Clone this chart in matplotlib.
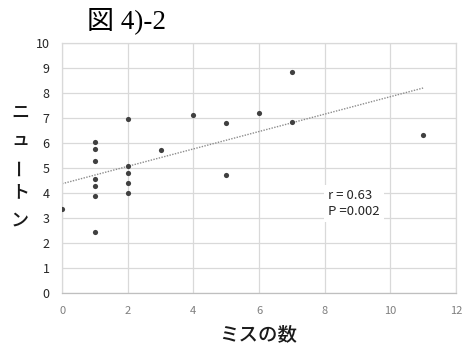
import numpy as np
import matplotlib
matplotlib.use("Agg")
import matplotlib.pyplot as plt

# data
miss_count = [0, 1, 1, 1, 1, 1, 1, 1, 2, 2, 2, 2, 2, 3, 4, 5, 5, 6, 7, 7, 11]
newton = [3.37, 6.05, 5.78, 5.30, 4.56, 4.27, 3.88, 2.45,
          6.96, 5.07, 4.82, 4.39, 3.99, 5.73, 7.13, 6.80, 4.74,
          7.19, 8.82, 6.83, 6.32]
x_ticks = [0, 2, 4, 6, 8, 10, 12]
y_ticks = list(range(0, 11))
ylabel_chars = ["ニ", "ュ", "ー", "ト", "ン"]

CJK = ["Noto Sans CJK JP", "DejaVu Sans"]
plt.rcParams["font.family"] = CJK

fig = plt.figure(figsize=(4.65, 3.48), dpi=100)
ax = fig.add_axes([0.1335, 0.157, 0.847, 0.720])

x = np.array(miss_count, dtype=float)
y = np.array(newton)
slope, intercept = np.polyfit(x, y, 1)
xl = np.array([x.min(), x.max()])
ax.plot(xl, slope * xl + intercept, color="#8c8c8c", lw=1.0, ls=(0, (1, 1)), zorder=2)
ax.scatter(x, y, s=14, color="#404040", zorder=3, linewidths=0)

ax.set_xlim(0, 12)
ax.set_ylim(0, 10)
ax.set_xticks(x_ticks)
ax.set_yticks(y_ticks)
ax.grid(True, color="#d9d9d9", lw=0.9)
ax.set_axisbelow(True)
for sp in ax.spines.values():
    sp.set_color("#d9d9d9")
    sp.set_linewidth(0.9)
ax.spines["bottom"].set_color("#bfbfbf")
ax.tick_params(length=0)
ax.tick_params(axis="x", colors="#7f7f7f", labelsize=8, pad=9)
ax.tick_params(axis="y", colors="#404040", labelsize=9, pad=9)
for lbl in ax.get_yticklabels():
    lbl.set_color("#262626")

ax.text(8.1, 3.59, "r = 0.63\nP =0.002", fontsize=9.5, color="#262626",
        linespacing=1.25, ha="left", va="center",
        bbox=dict(facecolor="white", edgecolor="none", pad=3))

fig.text(0.271, 0.94, "図 4)-2", fontsize=19.5,
         family=["Liberation Serif", "Noto Sans CJK JP"], ha="center", va="center")
fig.text(0.555, 0.038, "ミスの数", fontsize=14, ha="center", va="center",
         fontweight="medium", color="#1a1a1a")

y0 = 0.675
for i, ch in enumerate(ylabel_chars):
    rot = 90 if ch == "ー" else 0
    fig.text(0.043, y0 - i * 0.0769, ch, fontsize=13, rotation=rot,
             ha="center", va="center", fontweight="medium", color="#1a1a1a")

fig.savefig("out.png", dpi=100)
